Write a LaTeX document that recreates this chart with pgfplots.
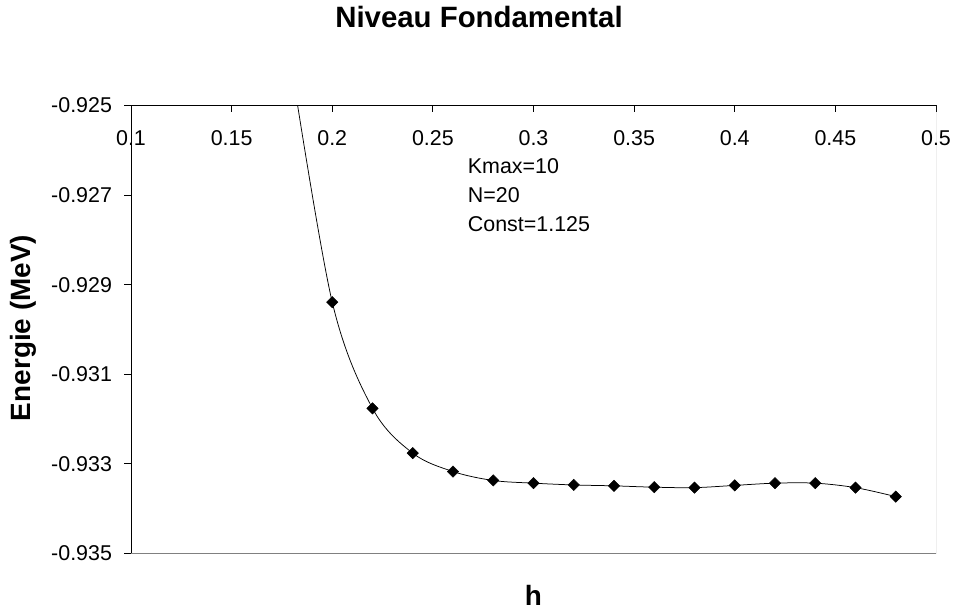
\documentclass[border=0pt]{standalone}
\usepackage{fontspec}
\setmainfont{Liberation Sans}
\usepackage{pgfplots}
\pgfplotsset{compat=1.18}
\begin{document}
\begin{tikzpicture}
\begin{axis}[
  at={(0,0)}, anchor=south west,
  width=805bp, height=448bp, scale only axis,
  xmin=0.1, xmax=0.5, ymin=-0.935, ymax=-0.925,
  axis x line*=top, axis y line*=left,
  axis line style={black, line width=0.9bp, -},
  xtick={0.1,0.15,0.2,0.25,0.3,0.35,0.4,0.45,0.5},
  xticklabels={0.1,0.15,0.2,0.25,0.3,0.35,0.4,0.45,0.5},
  ytick={-0.935,-0.933,-0.931,-0.929,-0.927,-0.925},
  yticklabels={-0.935,-0.933,-0.931,-0.929,-0.927,-0.925},
  xtick align=inside, ytick align=outside,
  major tick length=6.5bp,
  tick style={black, line width=0.9bp},
  ticklabel style={font=\fontsize{21.5}{24}\selectfont},
  xticklabel style={anchor=north, yshift=-21.5bp},
  yticklabel style={xshift=-9bp},
  clip=true,
]
\addplot[black, line width=0.75bp, smooth, tension=0.55,
  mark=square*, mark size=4bp, mark indices={1,...,15},
  mark options={rotate=45, fill=black, solid, line width=0.5bp}]
  table[row sep=\\] {
  x y \\
  0.18 -0.9242 \\
  0.20 -0.92939 \\
  0.22 -0.93176 \\
  0.24 -0.93276 \\
  0.26 -0.93317 \\
  0.28 -0.93337 \\
  0.30 -0.93343 \\
  0.32 -0.93347 \\
  0.34 -0.93349 \\
  0.36 -0.93352 \\
  0.38 -0.93353 \\
  0.40 -0.93348 \\
  0.42 -0.93343 \\
  0.44 -0.93343 \\
  0.46 -0.93353 \\
  0.48 -0.93373 \\
  };
\draw[color=gray, line width=1bp] (rel axis cs:0,0) -- (rel axis cs:1,0) -- (rel axis cs:1,1);
\node[anchor=base west, font=\fontsize{21.5}{24}\selectfont, inner sep=0pt] at (rel axis cs:0.4183,0.8487) {Kmax=10};
\node[anchor=base west, font=\fontsize{21.5}{24}\selectfont, inner sep=0pt] at (rel axis cs:0.4183,0.783) {N=20};
\node[anchor=base west, font=\fontsize{21.5}{24}\selectfont, inner sep=0pt] at (rel axis cs:0.4183,0.7183) {Const=1.125};
\end{axis}
\node[anchor=base, font=\bfseries\fontsize{29.5}{32}\selectfont, inner sep=0pt] at (348bp,525.5bp) {Niveau Fondamental};
\node[rotate=90, anchor=center, font=\bfseries\fontsize{28}{30}\selectfont, inner sep=0pt] at (-108bp,225.5bp) {Energie (MeV)};
\node[anchor=base, font=\bfseries\fontsize{28}{30}\selectfont, inner sep=0pt] at (402.5bp,-51.5bp) {h};
\pgfresetboundingbox
\path (-131bp,-56.5bp) rectangle (824bp,553.5bp);
\end{tikzpicture}
\end{document}
